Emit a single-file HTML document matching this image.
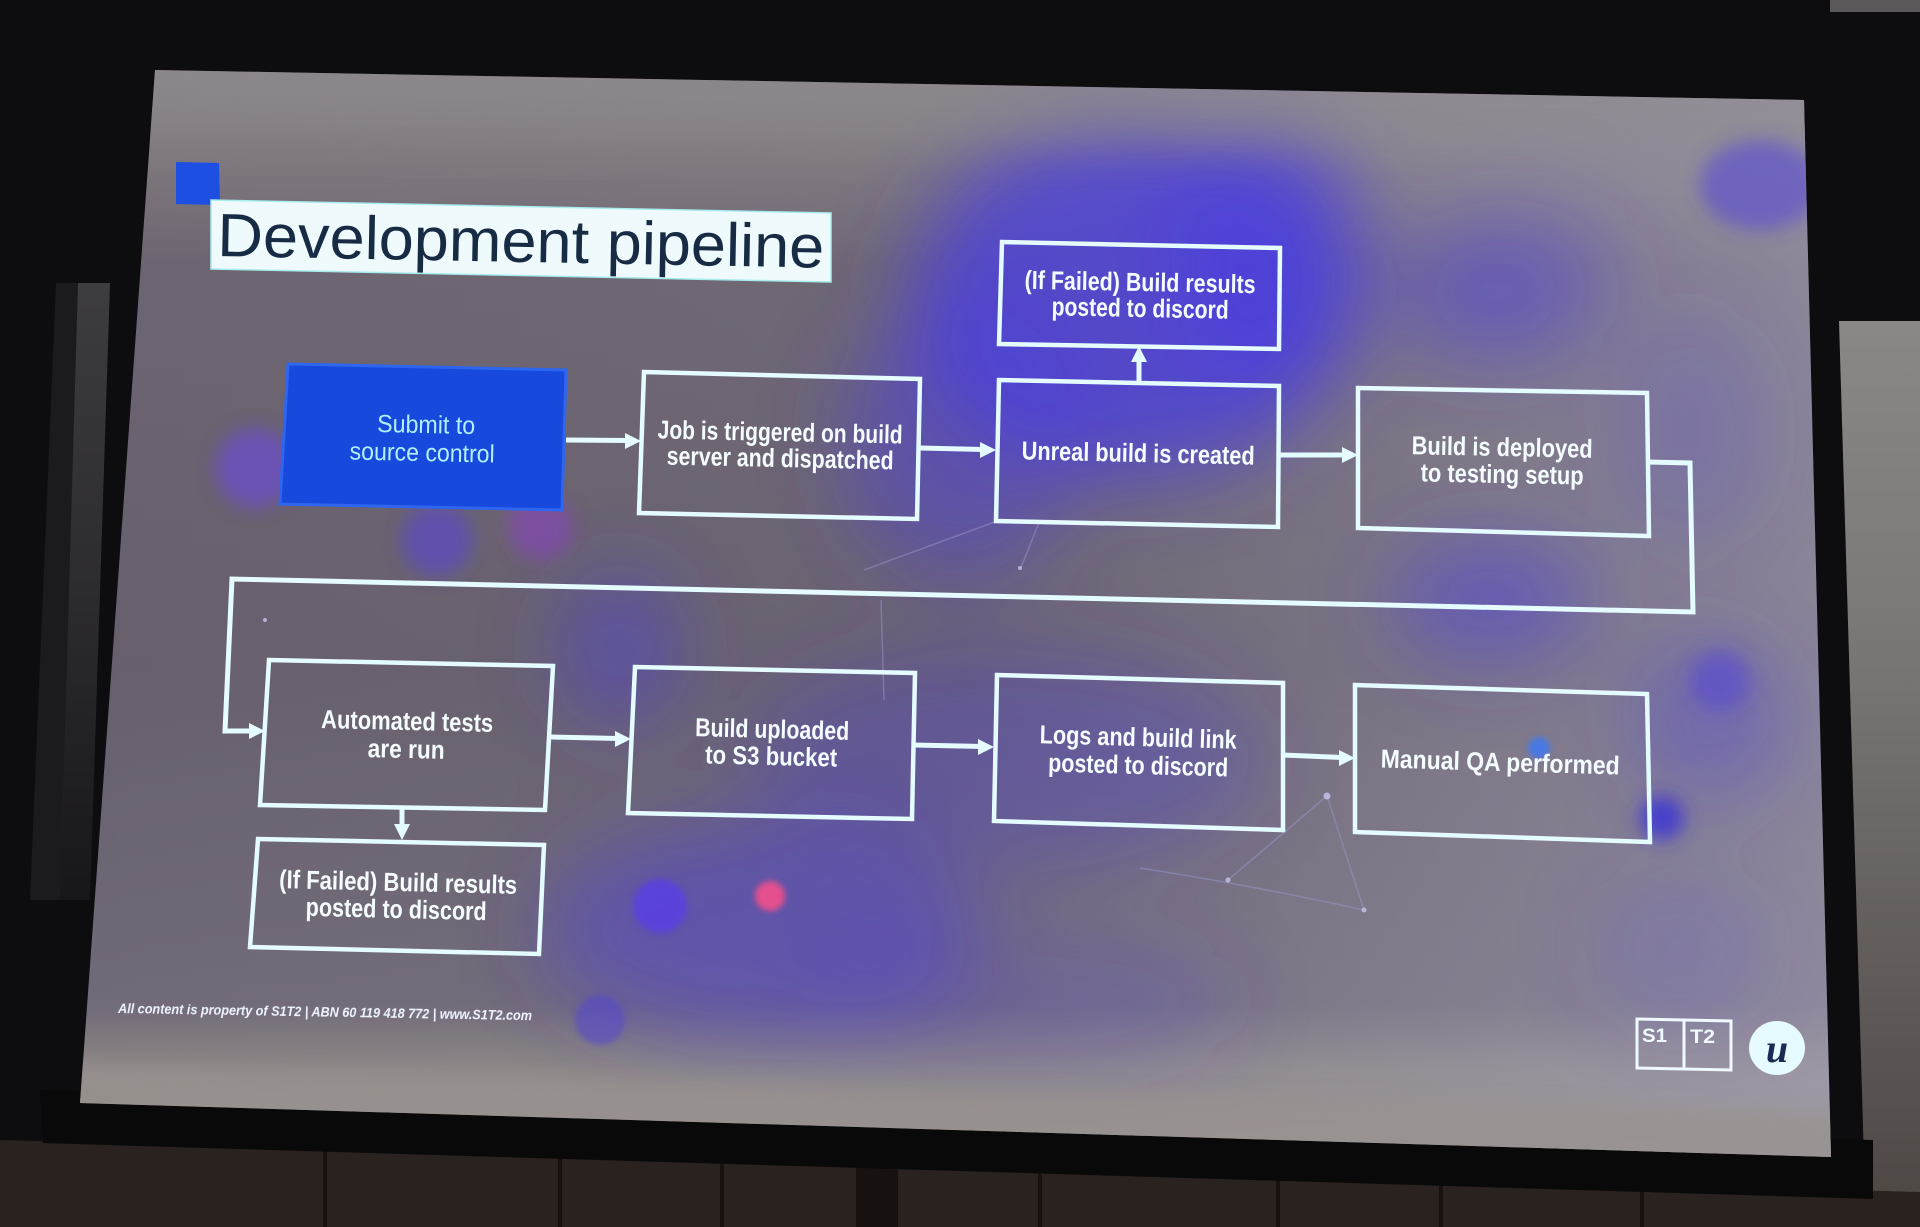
<!DOCTYPE html>
<html><head><meta charset="utf-8">
<style>html,body{margin:0;padding:0;background:#0d0c0e;overflow:hidden}svg{display:block}</style>
</head><body>
<svg width="1920" height="1227" viewBox="0 0 1920 1227" xmlns="http://www.w3.org/2000/svg">
<defs>
<clipPath id="slide"><polygon points="155,70 1804,100 1831,1157 80,1103"/></clipPath>
<filter id="b40" x="-60%" y="-60%" width="220%" height="220%"><feGaussianBlur stdDeviation="40"/></filter>
<filter id="b25" x="-60%" y="-60%" width="220%" height="220%"><feGaussianBlur stdDeviation="22"/></filter>
<filter id="b10" x="-60%" y="-60%" width="220%" height="220%"><feGaussianBlur stdDeviation="9"/></filter>
<filter id="b4" x="-60%" y="-60%" width="220%" height="220%"><feGaussianBlur stdDeviation="3"/></filter>
<linearGradient id="bgv" gradientUnits="userSpaceOnUse" x1="0" y1="70" x2="0" y2="1157">
<stop offset="0" stop-color="#8b8589"/>
<stop offset="0.08" stop-color="#7f787e"/>
<stop offset="0.18" stop-color="#6c6470"/>
<stop offset="0.55" stop-color="#675f6c"/>
<stop offset="0.86" stop-color="#716a78"/>
<stop offset="0.92" stop-color="#8d8786"/>
<stop offset="1" stop-color="#99938f"/>
</linearGradient>
<linearGradient id="bgh" gradientUnits="userSpaceOnUse" x1="80" y1="0" x2="1831" y2="0">
<stop offset="0" stop-color="#a29eb4" stop-opacity="0"/>
<stop offset="0.5" stop-color="#a29eb4" stop-opacity="0.08"/>
<stop offset="1" stop-color="#a8a4bc" stop-opacity="0.55"/>
</linearGradient>
<linearGradient id="wall" x1="0" y1="0" x2="0" y2="1">
<stop offset="0" stop-color="#8a8886"/>
<stop offset="0.35" stop-color="#7a7775"/>
<stop offset="0.7" stop-color="#625d5b"/>
<stop offset="1" stop-color="#4c4643"/>
</linearGradient>
<linearGradient id="lstrip" x1="0" y1="0" x2="0" y2="1">
<stop offset="0" stop-color="#3d3c3e"/>
<stop offset="0.5" stop-color="#2c2b2d"/>
<stop offset="1" stop-color="#171618"/>
</linearGradient>
</defs>

<!-- environment -->
<rect x="0" y="0" width="1920" height="1227" fill="#0d0c0e"/>
<polygon points="1830,0 1920,0 1920,12 1830,12" fill="#5a5858"/>
<polygon points="1839,321 1920,321 1920,1227 1866,1227" fill="url(#wall)"/>
<polygon points="56,283 78,283 62,900 30,900" fill="#1b1a1c"/>
<polygon points="78,283 110,283 90,900 60,900" fill="url(#lstrip)"/>
<!-- floor panels -->
<polygon points="0,1140 1920,1192 1920,1227 0,1227" fill="#2a221f"/>
<g fill="#171210">
<rect x="323" y="1150" width="4" height="77"/>
<rect x="558" y="1156" width="4" height="71"/>
<rect x="720" y="1160" width="4" height="67"/>
<rect x="856" y="1162" width="42" height="65"/>
<rect x="1038" y="1168" width="4" height="59"/>
<rect x="1276" y="1175" width="4" height="52"/>
<rect x="1439" y="1180" width="4" height="47"/>
<rect x="1640" y="1186" width="4" height="41"/>
</g>
<!-- screen housing bar -->
<polygon points="40,1090 1873,1140 1873,1199 43,1143" fill="#0a0909"/>

<!-- slide -->
<g clip-path="url(#slide)">
<rect x="0" y="0" width="1920" height="1227" fill="url(#bgv)"/>
<rect x="0" y="0" width="1920" height="1227" fill="url(#bgh)"/>
<g filter="url(#b40)">
<ellipse cx="1130" cy="300" rx="220" ry="180" fill="#4a3ce2" opacity="0.75"/>
<ellipse cx="1270" cy="260" rx="100" ry="140" fill="#4a3ce2" opacity="0.6"/>
<ellipse cx="1490" cy="300" rx="100" ry="70" fill="#4a3ce2" opacity="0.35"/>
<ellipse cx="960" cy="440" rx="120" ry="140" fill="#4a3ce2" opacity="0.45"/>
<ellipse cx="1520" cy="270" rx="110" ry="70" fill="#4a3ce2" opacity="0.2"/>
<ellipse cx="1490" cy="600" rx="100" ry="60" fill="#4a3ce2" opacity="0.5"/>
<ellipse cx="1710" cy="720" rx="80" ry="80" fill="#4a3ce2" opacity="0.35"/>
<ellipse cx="1000" cy="760" rx="260" ry="110" fill="#4a3ce2" opacity="0.3"/>
<ellipse cx="760" cy="930" rx="220" ry="110" fill="#4a3ce2" opacity="0.45"/>
<ellipse cx="1020" cy="1000" rx="220" ry="70" fill="#4a3ce2" opacity="0.2"/>
<ellipse cx="1690" cy="430" rx="80" ry="120" fill="#4a3ce2" opacity="0.18"/>
<ellipse cx="620" cy="650" rx="60" ry="80" fill="#4a3ce2" opacity="0.45"/>
<ellipse cx="1680" cy="950" rx="90" ry="80" fill="#4a3ce2" opacity="0.15"/>
</g>
<!-- top & bottom bands -->
<polygon points="100,40 1850,70 1850,150 100,128" fill="#8d898d" opacity="0.55" filter="url(#b25)"/>
<polygon points="40,1065 1860,1112 1860,1200 40,1160" fill="#98928f" opacity="0.8" filter="url(#b10)"/>
<g filter="url(#b10)">
<ellipse cx="1760" cy="185" rx="60" ry="45" fill="#4a3ce2" opacity="0.5"/>
<circle cx="255" cy="468" r="40" fill="#6a48d8" opacity="0.65"/>
<circle cx="437" cy="540" r="36" fill="#5b44d6" opacity="0.6"/>
<circle cx="540" cy="527" r="32" fill="#8a40c8" opacity="0.55"/>
<circle cx="1662" cy="818" r="22" fill="#3a2ed8" opacity="0.8"/>
<circle cx="1720" cy="680" r="30" fill="#4a3ce2" opacity="0.45"/>
</g>
<g filter="url(#b4)">
<circle cx="770" cy="896" r="15" fill="#e4508e"/>
<circle cx="660" cy="906" r="27" fill="#5a3ee2" opacity="0.85"/>
<circle cx="1539" cy="748" r="11" fill="#4a78e4"/>
<circle cx="600" cy="1020" r="25" fill="#5040d8" opacity="0.5"/>
</g>
<g stroke="#9a96cc" stroke-width="1.5" opacity="0.5" fill="none">
<line x1="1327" y1="796" x2="1228" y2="880"/>
<line x1="1327" y1="796" x2="1364" y2="910"/>
<path d="M1140,868 Q1250,885 1364,910"/>
<line x1="864" y1="570" x2="1000" y2="520"/>
<line x1="881" y1="600" x2="884" y2="700"/>
<line x1="1040" y1="520" x2="1020" y2="570"/>
</g>
<g fill="#c8c4f0" opacity="0.8">
<circle cx="1228" cy="880" r="2.5"/><circle cx="1364" cy="910" r="2.5"/><circle cx="1327" cy="796" r="3.5"/>
<circle cx="1020" cy="568" r="2"/><circle cx="265" cy="620" r="2"/>
</g>
</g>

<!-- title -->
<polygon points="176,162 219,163 220,205 176,204" fill="#1c4fe2"/>
<polygon points="211,200 831,213 831,282 211,269" fill="#eefafb" stroke="#a8ecee" stroke-width="1.5"/>
<text x="217" y="256" transform="rotate(1.1 217 256)" font-family="'Liberation Sans', Arial, sans-serif" font-size="61" fill="#172c44" textLength="607" lengthAdjust="spacingAndGlyphs">Development pipeline</text>

<!-- boxes -->
<polygon points="288,364 566,370 562,510 280,504" fill="#1749dc" stroke="#2e66f0" stroke-width="3"/>
<g fill="none" stroke="#e4fbff" stroke-width="4.5" stroke-linejoin="miter">
<polygon points="644,372 920,379 917,519 639,513"/>
<polygon points="999,380 1279,386 1278,527 996,521"/>
<polygon points="1002,242 1280,248 1279,349 999,344"/>
<polygon points="1358,388 1647,393 1649,536 1358,528"/>
<polygon points="269,660 553,666 545,810 260,805"/>
<polygon points="635,667 915,673 912,819 628,813"/>
<polygon points="997,675 1283,683 1283,830 994,821"/>
<polygon points="1355,685 1647,694 1650,842 1355,832"/>
<polygon points="258,839 544,845 539,954 250,947"/>
</g>

<!-- connectors -->
<g fill="none" stroke="#e4fbff" stroke-width="5" stroke-linejoin="miter">
<line x1="566" y1="440" x2="628" y2="440.5"/>
<line x1="920" y1="448" x2="983" y2="449.5"/>
<line x1="1279" y1="455" x2="1344" y2="455"/>
<line x1="1139" y1="384" x2="1139" y2="360"/>
<polyline points="1647,462 1690,463 1693,612 232,579 225,731 252,731"/>
<line x1="550" y1="737" x2="618" y2="738.5"/>
<line x1="913" y1="745" x2="981" y2="746.5"/>
<line x1="1283" y1="755" x2="1342" y2="757.5"/>
<line x1="402" y1="808" x2="402" y2="826"/>
</g>
<g fill="#e4fbff">
<polygon points="641,441 625,433 625,449"/>
<polygon points="996,450 980,442 980,458"/>
<polygon points="1358,455 1342,447 1342,463"/>
<polygon points="1139,346 1131,362 1147,362"/>
<polygon points="265,731 249,723 249,739"/>
<polygon points="631,739 615,731 615,747"/>
<polygon points="994,747 978,739 978,755"/>
<polygon points="1355,758 1339,750 1339,766"/>
<polygon points="402,840 394,824 410,824"/>
</g>

<!-- labels -->
<g font-family="'Liberation Sans', Arial, sans-serif" text-anchor="middle">
<g fill="#b2f0ff" font-size="25">
<text x="426" y="433" transform="rotate(1.2 426 433)" textLength="98" lengthAdjust="spacingAndGlyphs">Submit to</text>
<text x="422" y="461" transform="rotate(1.2 422 461)" textLength="145" lengthAdjust="spacingAndGlyphs">source control</text>
</g>
<g fill="#f4fcff" font-size="26" font-weight="bold">
<text x="780" y="441" transform="rotate(1.2 780 441)" textLength="245" lengthAdjust="spacingAndGlyphs">Job is triggered on build</text>
<text x="780" y="467" transform="rotate(1.2 780 467)" textLength="227" lengthAdjust="spacingAndGlyphs">server and dispatched</text>
<text x="1138" y="462" transform="rotate(1.3 1138 462)" textLength="233" lengthAdjust="spacingAndGlyphs">Unreal build is created</text>
<text x="1140" y="291" transform="rotate(1.1 1140 291)" textLength="231" lengthAdjust="spacingAndGlyphs">(If Failed) Build results</text>
<text x="1140" y="317" transform="rotate(1.1 1140 317)" textLength="177" lengthAdjust="spacingAndGlyphs">posted to discord</text>
<text x="1502" y="456" transform="rotate(1.1 1502 456)" textLength="181" lengthAdjust="spacingAndGlyphs">Build is deployed</text>
<text x="1502" y="483" transform="rotate(1.1 1502 483)" textLength="163" lengthAdjust="spacingAndGlyphs">to testing setup</text>
<text x="407" y="730" transform="rotate(1.3 407 730)" textLength="172" lengthAdjust="spacingAndGlyphs">Automated tests</text>
<text x="406" y="758" transform="rotate(1.3 406 758)" textLength="77" lengthAdjust="spacingAndGlyphs">are run</text>
<text x="772" y="738" transform="rotate(1.4 772 738)" textLength="154" lengthAdjust="spacingAndGlyphs">Build uploaded</text>
<text x="771" y="765" transform="rotate(1.4 771 765)" textLength="132" lengthAdjust="spacingAndGlyphs">to S3 bucket</text>
<text x="1138" y="746" transform="rotate(1.6 1138 746)" textLength="197" lengthAdjust="spacingAndGlyphs">Logs and build link</text>
<text x="1138" y="774" transform="rotate(1.6 1138 774)" textLength="180" lengthAdjust="spacingAndGlyphs">posted to discord</text>
<text x="1500" y="771" transform="rotate(1.7 1500 771)" textLength="239" lengthAdjust="spacingAndGlyphs">Manual QA performed</text>
<text x="398" y="891" transform="rotate(1.4 398 891)" textLength="238" lengthAdjust="spacingAndGlyphs">(If Failed) Build results</text>
<text x="396" y="918" transform="rotate(1.4 396 918)" textLength="181" lengthAdjust="spacingAndGlyphs">posted to discord</text>
</g>
</g>

<!-- footer -->
<text x="118" y="1013" transform="rotate(1 118 1013)" font-family="'Liberation Sans', Arial, sans-serif" font-size="14" font-weight="bold" font-style="italic" fill="#eef4ff" textLength="414" lengthAdjust="spacingAndGlyphs">All content is property of S1T2 | ABN 60 119 418 772 | www.S1T2.com</text>

<!-- S1T2 logo -->
<g fill="none" stroke="#eefaff" stroke-width="3">
<polygon points="1637,1019 1731,1021 1731,1070 1637,1068"/>
<line x1="1684" y1="1020" x2="1684" y2="1069"/>
</g>
<g font-family="'Liberation Sans', Arial, sans-serif" font-weight="bold" font-size="19" fill="#eefaff">
<text x="1642" y="1042" textLength="25" lengthAdjust="spacingAndGlyphs">S1</text>
<text x="1690" y="1043" textLength="25" lengthAdjust="spacingAndGlyphs">T2</text>
</g>
<!-- Unreal logo -->
<ellipse cx="1777" cy="1048" rx="28" ry="27" fill="#e6fbff"/>
<text x="1777" y="1062" text-anchor="middle" font-family="'Liberation Serif', 'DejaVu Serif', serif" font-weight="bold" font-style="italic" font-size="40" fill="#1a2a55">u</text>
</svg>
</body></html>
